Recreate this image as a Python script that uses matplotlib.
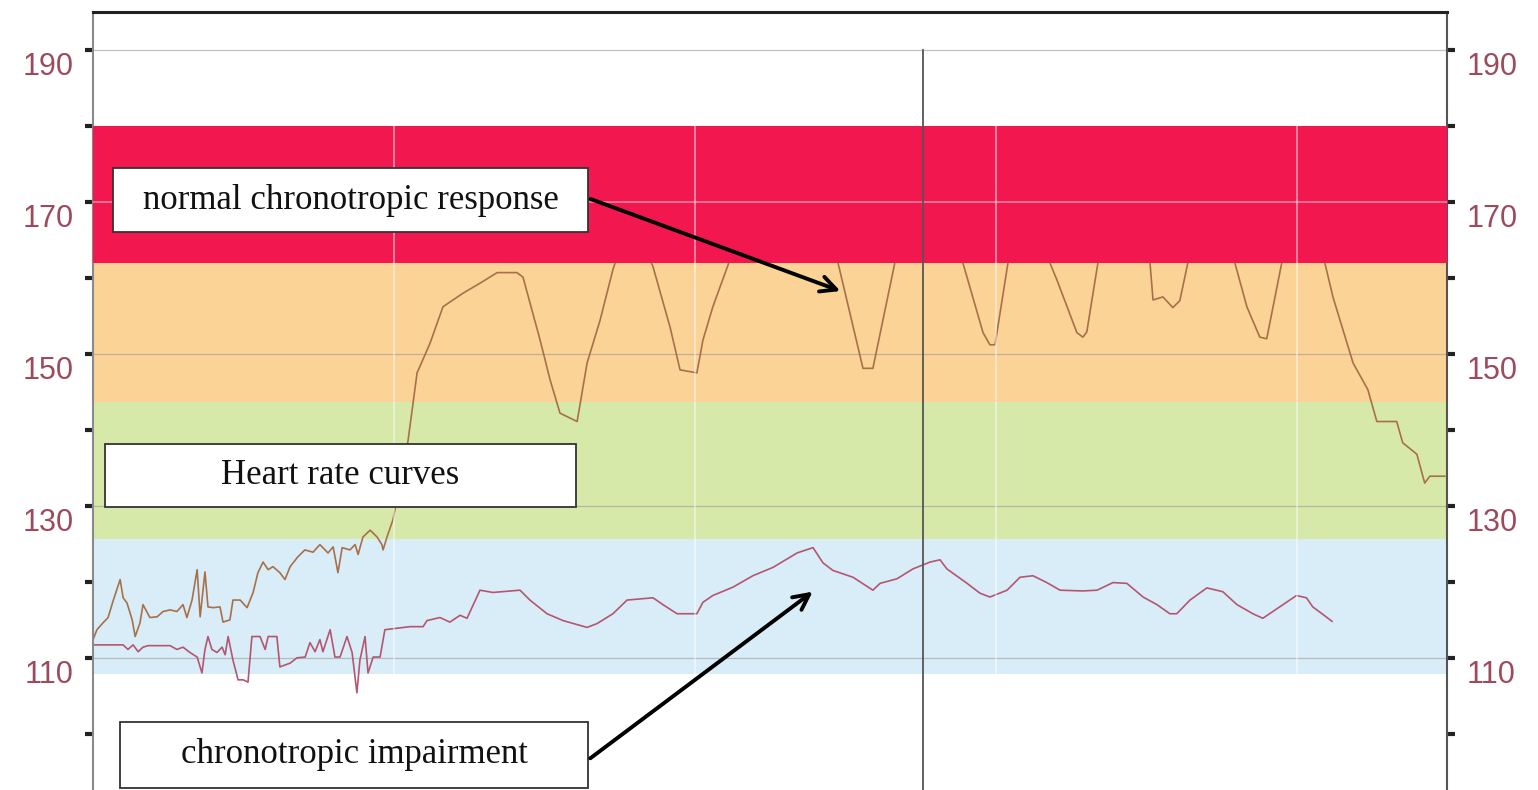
import matplotlib.pyplot as plt
from matplotlib.patches import Rectangle
from matplotlib.transforms import ScaledTranslation

# time in minutes, heart rate in bpm
normal_t = [0.0, 0.13, 0.33, 0.50, 0.66, 0.90, 1.00, 1.13, 1.30, 1.40, 1.56, 1.66, 1.89, 2.13,
            2.33, 2.56, 2.79, 2.99, 3.12, 3.29, 3.46, 3.56, 3.72, 3.82, 3.99, 4.22, 4.32, 4.55,
            4.65, 4.89, 5.12, 5.32, 5.48, 5.65, 5.82, 5.98, 6.21, 6.38, 6.55, 6.81, 7.04, 7.31,
            7.54, 7.81, 7.98, 8.14, 8.28, 8.54, 8.71, 8.81, 8.97, 9.21, 9.44, 9.60, 9.64, 9.77,
            9.97, 10.47, 10.77, 11.20, 11.63, 12.30, 12.86, 13.43, 14.09, 14.29, 14.86,
            15.19, 15.52, 16.09, 16.42, 16.85, 17.28, 17.85, 18.61, 19.18, 19.51, 20.07, 20.27,
            20.60, 21.17, 23.0, 24.76, 25.59, 25.92, 26.65, 27.8, 28.91, 29.58, 29.81, 29.98,
            30.41, 31.1, 31.80, 32.04, 32.70, 32.90, 33.03, 33.40, 34.3, 35.13, 35.23, 35.56,
            35.89, 36.12, 36.39, 37.1, 37.95, 38.35, 38.78, 39.01, 39.51, 40.1, 40.94, 41.21,
            41.68, 41.88, 42.37, 42.67, 43.33, 43.53, 44.00, 44.26, 44.43, 44.93]
normal_hr = [112.4, 113.7, 114.6, 115.3, 117.4, 120.3, 117.9, 117.2, 115.0, 112.8, 114.6, 117.0,
             115.3, 115.4, 116.1, 116.3, 116.1, 117.0, 115.3, 117.6, 121.6, 115.4, 121.3, 116.7,
             116.6, 116.7, 114.7, 115.0, 117.6, 117.6, 116.6, 118.6, 121.2, 122.6, 121.6, 122.0,
             121.2, 120.3, 122.0, 123.3, 124.2, 123.9, 124.9, 123.8, 124.6, 121.2, 124.5, 124.2,
             124.9, 123.6, 125.9, 126.8, 125.9, 124.9, 124.2, 125.9, 128.2,
             138.6, 147.5, 151.4, 156.2, 158.0, 159.3, 160.7, 160.7,
             160.1, 151.8, 146.6, 142.2, 141.1, 148.8, 154.4, 161.1, 168.0, 161.5, 153.5, 147.9,
             147.5, 151.8, 156.2, 162.4, 170.0, 162.0, 148.1, 148.1, 162.0, 168.0, 162.0, 152.8,
             151.2, 151.2, 162.0, 167.0, 162.0, 159.7, 152.8, 152.2, 152.9, 162.0, 166.0, 162.0,
             157.1, 157.5, 156.1, 157.0, 162.0, 166.0, 162.0, 156.2, 152.2, 152.0, 162.0, 167.0,
             162.0, 157.5, 151.4, 148.8, 145.3, 141.1, 141.1, 138.3, 136.8, 133.0, 133.9, 133.9]

impaired_t = [0.0, 0.33, 1.00, 1.16, 1.33, 1.50, 1.66, 1.83, 2.56, 2.79, 2.99, 3.22, 3.46, 3.62,
              3.72, 3.82, 3.95, 4.12, 4.29, 4.39, 4.49, 4.65, 4.82, 4.99, 5.15, 5.28, 5.55, 5.72,
              5.82, 6.11, 6.21, 6.55, 6.78, 7.05, 7.21, 7.38, 7.54, 7.64, 7.88, 8.04, 8.21, 8.44,
              8.61, 8.77, 8.87, 9.04, 9.14, 9.31, 9.54, 9.70, 10.54,
              10.97, 11.10, 11.53, 11.86, 12.20, 12.43, 12.86, 13.29, 14.19, 14.52,
              15.09, 15.62, 16.42, 16.75, 17.28, 17.75, 18.61, 18.94, 19.41, 20.07, 20.27, 20.60,
              21.27, 21.93, 22.60, 23.40, 23.93, 24.26, 24.59, 25.26, 25.92, 26.16, 26.72, 27.25,
              27.82, 28.15, 28.38, 29.05, 29.48, 29.81, 30.38, 30.81, 31.24, 31.70, 32.14, 32.90,
              33.37, 33.90, 34.36, 34.90, 35.36, 35.79, 36.02, 36.46, 37.02, 37.55, 38.02, 38.55,
              38.88, 39.44, 40.00, 40.33, 40.54, 40.88, 41.18]
impaired_hr = [111.7, 111.7, 111.7, 111.1, 111.7, 110.8, 111.4, 111.6, 111.6, 111.1, 111.4, 110.7,
               110.1, 108.0, 111.1, 112.8, 111.1, 110.7, 111.4, 110.4, 112.8, 109.7, 107.1, 107.1,
               106.8, 112.8, 112.8, 111.1, 112.8, 112.8, 108.8, 109.3, 110.0, 110.1, 112.0, 110.8,
               112.4, 110.8, 113.7, 110.1, 110.1, 112.8, 110.7, 105.4, 109.7, 112.8, 108.0, 110.1,
               110.1, 113.7, 114.1,
               114.1, 114.9, 115.3, 114.7, 115.6, 115.2,
               118.9, 118.6, 118.9, 117.6, 115.8, 114.9, 114.0, 114.5, 115.8, 117.6, 117.9, 117.0,
               115.8, 115.8, 117.3, 118.2, 119.3, 120.8, 121.9, 123.8, 124.5, 122.5, 121.5, 120.6,
               118.9, 119.8, 120.4, 121.7, 122.6, 122.9, 121.7, 119.8, 118.5, 118.0, 118.9, 120.6,
               120.8, 119.9, 118.9, 118.8, 118.9, 119.9, 119.8, 118.0, 117.0, 115.8, 115.8, 117.6,
               119.2, 118.7, 117.0, 115.8, 115.2, 116.7, 118.2, 117.9, 116.7, 115.7, 114.8]

# zone limits (bpm)
zones = [(162.0, 180.0, '#f3174f'), (143.7, 162.0, '#fbd396'),
         (125.6, 143.7, '#d7e9a8'), (107.9, 125.6, '#d9edf8')]
major_ticks = [110, 130, 150, 170, 190]
minor_ticks = [100, 120, 140, 160, 180]
marker_t = 27.58

label_col = '#9c4a5c'

fig = plt.figure(figsize=(15.38, 7.9), dpi=100)
ax = fig.add_axes([0.0605, 0.0, 0.8803, 0.9848])
ax.set_xlim(0, 45)
ax.set_ylim(92.6, 195.0)

for lo, hi, col in zones:
    z = 3 if col == '#f3174f' else 1
    ax.axhspan(lo, hi, color=col, lw=0, zorder=z)

# grid
for v in major_ticks:
    if 162 < v < 180:
        ax.axhline(v, color='white', lw=1.2, alpha=0.45, zorder=3.5)
    else:
        ax.axhline(v, color='#9a9a9a', lw=0.9, alpha=0.6, zorder=1.5)
for t in [10, 20, 30, 40]:
    ax.plot([t, t], [107.9, 180.0], color='white', lw=1.3, alpha=0.5, zorder=3.5)
ax.plot([marker_t, marker_t], [190, 92.6], color='#555555', lw=1.3, zorder=4)

ax.plot(normal_t, normal_hr, color='#a8704a', lw=1.2, zorder=2)
ax.plot(impaired_t, impaired_hr, color='#b4566f', lw=1.2, zorder=2)

ax.set_xticks([])
ax.set_yticks(major_ticks)
ax.set_yticks(minor_ticks, minor=True)
ax.tick_params(axis='y', which='both', direction='out', length=6, width=3, color='#222222',
               left=True, right=True, labelleft=True, labelright=True, pad=8)
ax.tick_params(axis='y', which='major', labelsize=22, labelcolor=label_col)
# labels sit a bit below their ticks in the original
shift = ScaledTranslation(0, -10 / 72, fig.dpi_scale_trans)
for tick in ax.yaxis.get_major_ticks():
    for lab in (tick.label1, tick.label2):
        lab.set_family('Liberation Sans')
        lab.set_transform(lab.get_transform() + shift)

ax.spines['top'].set_linewidth(2.2)
ax.spines['top'].set_color('#222222')
ax.spines['left'].set_color('#8a8a8a')
ax.spines['left'].set_linewidth(1.5)
ax.spines['right'].set_color('#555555')
ax.spines['right'].set_linewidth(1.5)
ax.spines['bottom'].set_visible(False)

boxes = [
    ('normal chronotropic response', 0.0148, 0.7172, 0.3508, 0.0823),
    ('Heart rate curves', 0.0089, 0.3638, 0.3478, 0.0809),
    ('chronotropic impairment', 0.0199, 0.0026, 0.3457, 0.0848),
]
for txt, x0, y0, w, h in boxes:
    ax.add_patch(Rectangle((x0, y0), w, h, transform=ax.transAxes, facecolor='white',
                           edgecolor='#333333', lw=1.3, zorder=5))
    ax.text(x0 + w / 2, y0 + h / 2, txt, transform=ax.transAxes, ha='center', va='center',
            fontsize=25, family='Liberation Serif', color='#111111', zorder=6)

arrow = dict(arrowstyle='->', color='black', lw=2.8, mutation_scale=28)
ax.annotate('', xy=(0.5539, 0.6401), xytext=(0.3656, 0.7609), xycoords='axes fraction',
            arrowprops=arrow, zorder=6)
ax.annotate('', xy=(0.5332, 0.2571), xytext=(0.3656, 0.0386), xycoords='axes fraction',
            arrowprops=arrow, zorder=6)

fig.savefig('out.png', dpi=100)
